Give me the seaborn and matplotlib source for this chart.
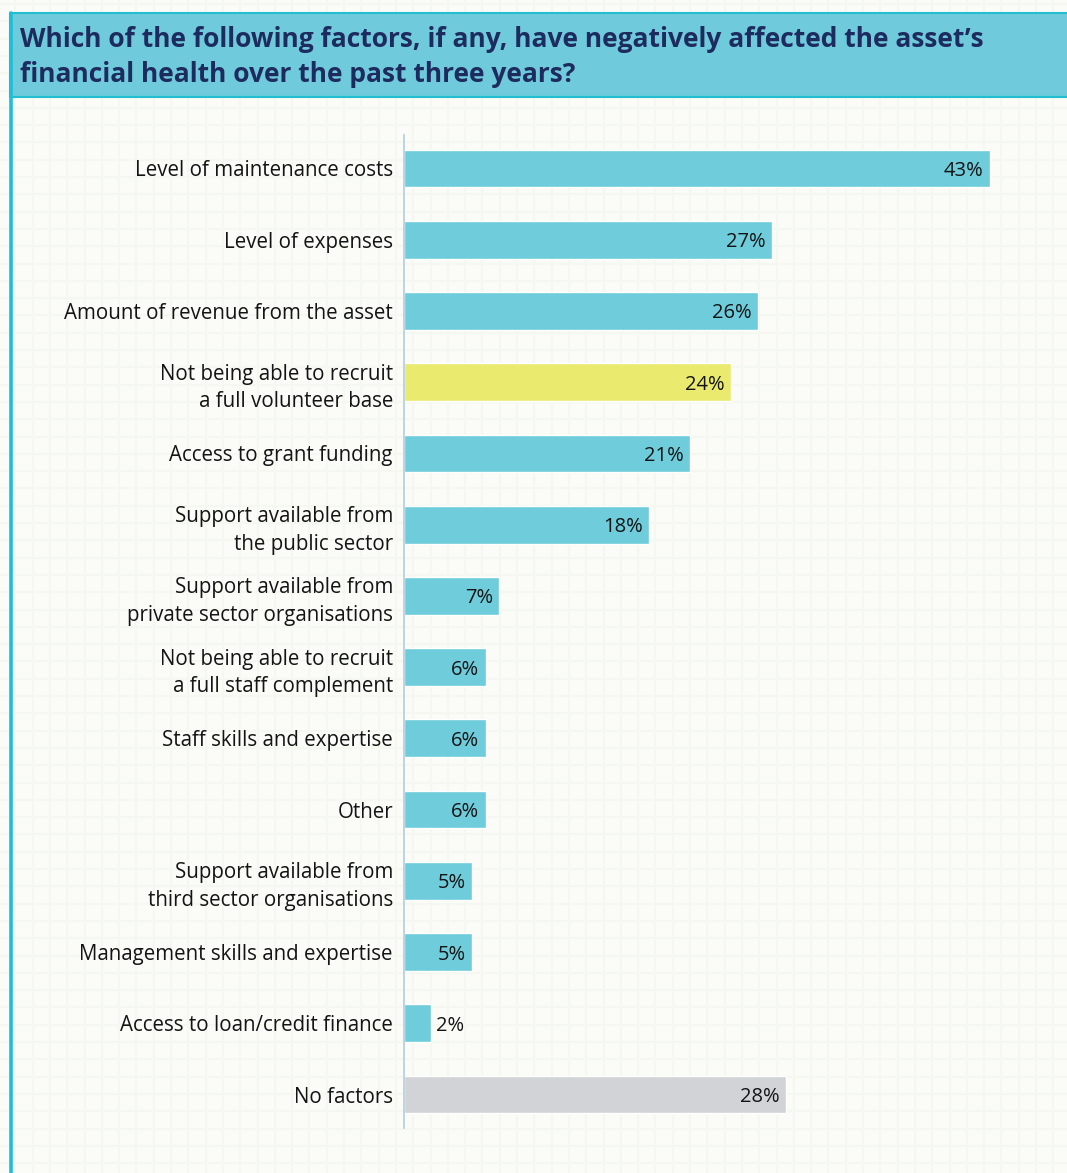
import numpy as np
import pandas as pd
import matplotlib
matplotlib.use("Agg")
import matplotlib.pyplot as plt
from matplotlib.patches import Rectangle
import seaborn as sns

# Survey responses (% of respondents)
categories = [
    "Level of maintenance costs",
    "Level of expenses",
    "Amount of revenue from the asset",
    "Not being able to recruit\na full volunteer base",
    "Access to grant funding",
    "Support available from\nthe public sector",
    "Support available from\nprivate sector organisations",
    "Not being able to recruit\na full staff complement",
    "Staff skills and expertise",
    "Other",
    "Support available from\nthird sector organisations",
    "Management skills and expertise",
    "Access to loan/credit finance",
    "No factors",
]
values = [43, 27, 26, 24, 21, 18, 7, 6, 6, 6, 5, 5, 2, 28]
value_labels = ["43%", "27%", "26%", "24%", "21%", "18%", "7%", "6%", "6%",
                "6%", "5%", "5%", "2%", "28%"]

title_text = ("Which of the following factors, if any, have negatively affected the asset\u2019s\n"
              "financial health over the past three years?")

CYAN = "#6ECCDB"
YELLOW = "#E9EA6E"
GREY = "#D2D3D6"
NAVY = "#1E2B5E"
BG = "#FBFCF7"
TEXT = "#141414"

colors = [CYAN] * len(categories)
colors[categories.index("Not being able to recruit\na full volunteer base")] = YELLOW
colors[categories.index("No factors")] = GREY

sns.set_theme(style="white")
plt.rcParams["font.family"] = ["Open Sans", "DejaVu Sans"]

W, H = 1067, 1173
fig = plt.figure(figsize=(W / 100, H / 100), dpi=100)
fig.patch.set_facecolor(BG)

# Faint graph-paper background
bg = fig.add_axes([0, 0, 1, 1], zorder=-10)
bg.set_xlim(0, W)
bg.set_ylim(H, 0)
bg.axis("off")
bg.set_facecolor(BG)
step = 17.3
for gx in np.arange(-2.0, W, step):
    bg.axvline(gx, color="#F5F8F0", lw=1.6, zorder=0)
for gy in np.arange(4.0, H, step):
    bg.axhline(gy, color="#F5F8F0", lw=1.6, zorder=0)

# Header band and left panel border
bg.add_patch(Rectangle((10, 13), W, 84, facecolor="#6FCBDB", edgecolor="#22BFD3",
                       lw=1.5, zorder=2))
bg.plot([10.5, 10.5], [13, H], color="#1EBFD6", lw=2.6, zorder=3)
bg.text(20, 57, title_text, fontsize=19, fontweight="bold", color=NAVY,
        va="center", ha="left", linespacing=1.4, zorder=4)

# Bar chart
df = pd.DataFrame({"factor": categories, "pct": values})
ax = fig.add_axes([404 / W, 1 - 1128 / H, 654 / W, 993 / H])
ax.patch.set_alpha(0)
sns.barplot(data=df, x="pct", y="factor", hue="factor", palette=colors,
            legend=False, width=0.53, saturation=1, ax=ax, orient="h")
ax.set_xlim(0, 48)
ax.set_ylim(13.47, -0.47)
ax.set_xlabel("")
ax.set_ylabel("")
ax.set_xticks([])
for side in ["top", "right", "bottom"]:
    ax.spines[side].set_visible(False)
ax.spines["left"].set_color("#B8CFE2")
ax.spines["left"].set_linewidth(1.3)
ax.tick_params(axis="y", length=0, pad=8)
for lab in ax.get_yticklabels():
    lab.set_fontsize(14.8)
    lab.set_color(TEXT)
    lab.set_linespacing(1.4)

for i, (v, t) in enumerate(zip(values, value_labels)):
    if v >= 4:
        ax.annotate(t, (v, i), xytext=(-4.5, 0), textcoords="offset points",
                    ha="right", va="center_baseline", fontsize=14.5, color=TEXT)
    else:
        ax.annotate(t, (v, i), xytext=(3.5, 0), textcoords="offset points",
                    ha="left", va="center_baseline", fontsize=14.5, color=TEXT)

fig.savefig("out.png", dpi=100, facecolor=BG)
